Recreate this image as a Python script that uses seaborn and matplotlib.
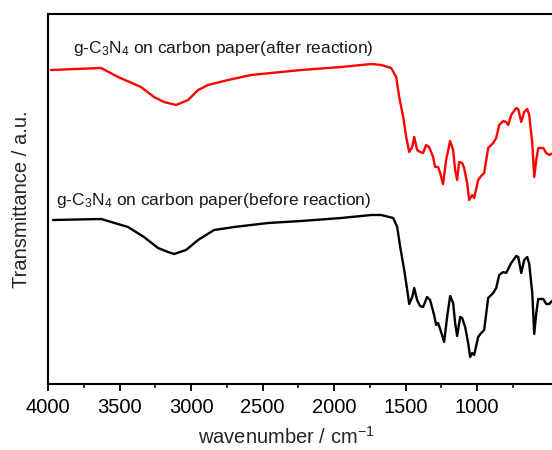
import numpy as np
import pandas as pd
import matplotlib
matplotlib.use("Agg")
import matplotlib.pyplot as plt
import seaborn as sns
from matplotlib.ticker import FixedLocator

# FTIR spectra of g-C3N4 on carbon paper (wavenumber in cm^-1, transmittance in a.u.)
wn_after = [3979, 3629, 3510, 3350, 3259, 3189, 3105, 3021, 2951, 2881, 2741, 2580,
            2371, 2231, 1951, 1741, 1671, 1601, 1566, 1545, 1517, 1496, 1475, 1454,
            1440, 1420, 1399, 1378, 1357, 1336, 1308, 1294, 1273, 1259, 1238, 1217,
            1189, 1168, 1154, 1140, 1126, 1105, 1091, 1070, 1056, 1035, 1021, 993,
            972, 951, 923, 888, 867, 846, 818, 797, 783, 762, 727, 713, 692, 671,
            650, 636, 615, 601, 587, 573, 538, 517, 497, 469, 440]
tr_after = [31.4, 31.6, 30.7, 29.7, 28.7, 28.2, 27.9, 28.4, 29.4, 29.9, 30.4, 30.9,
            31.2, 31.4, 31.7, 32.0, 31.9, 31.6, 30.7, 28.7, 26.7, 24.7, 23.2, 23.7,
            24.7, 23.4, 23.2, 23.1, 23.9, 23.7, 22.7, 21.7, 21.7, 21.1, 20.0, 22.4,
            24.3, 23.4, 21.4, 20.4, 22.2, 22.1, 21.6, 20.1, 18.4, 18.9, 18.6, 20.4,
            20.8, 21.1, 23.6, 24.1, 24.6, 25.9, 26.3, 26.2, 25.9, 26.9, 27.6, 27.5,
            26.2, 27.2, 27.5, 26.9, 24.1, 20.7, 22.4, 23.6, 23.6, 23.1, 22.9, 23.1,
            23.2]

wn_before = [3965, 3629, 3441, 3329, 3231, 3161, 3119, 3035, 2951, 2839, 2699, 2462,
             2231, 1951, 1741, 1671, 1587, 1559, 1538, 1510, 1489, 1475, 1454, 1440,
             1420, 1399, 1378, 1350, 1329, 1301, 1287, 1273, 1252, 1231, 1210, 1189,
             1168, 1154, 1140, 1119, 1105, 1084, 1063, 1049, 1035, 1021, 993, 972,
             951, 923, 888, 867, 846, 818, 797, 762, 727, 713, 692, 671, 650, 636,
             615, 601, 587, 573, 538, 517, 497, 469, 440]
tr_before = [16.4, 16.5, 15.7, 14.7, 13.6, 13.2, 13.0, 13.4, 14.4, 15.4, 15.7, 16.1,
             16.3, 16.6, 16.9, 16.9, 16.6, 15.7, 13.7, 11.4, 9.4, 8.0, 8.7, 9.6,
             8.4, 7.8, 7.7, 8.7, 8.4, 6.9, 5.9, 6.1, 5.2, 4.2, 6.7, 8.8,
             8.1, 6.1, 4.8, 6.7, 6.6, 5.7, 4.1, 2.7, 3.1, 2.9, 4.7, 5.1,
             5.4, 8.6, 9.1, 9.6, 10.9, 11.2, 11.1, 12.1, 12.8, 12.7, 11.1, 12.4, 12.7, 12.0,
             9.1, 5.0, 7.1, 8.5, 8.5, 8.0, 8.0, 8.4, 8.5]

label_after = "g-C$_3$N$_4$ on carbon paper(after reaction)"
label_before = "g-C$_3$N$_4$ on carbon paper(before reaction)"

major_ticks = [4000, 3500, 3000, 2500, 2000, 1500, 1000]
minor_ticks = [3750, 3250, 2750, 2250, 1750, 1250, 750]

sns.set_theme(style="ticks")
plt.rcParams["font.family"] = ["Liberation Sans", "DejaVu Sans"]
plt.rcParams["mathtext.fontset"] = "custom"
plt.rcParams["mathtext.rm"] = "Liberation Sans"
plt.rcParams["mathtext.it"] = "Liberation Sans:italic"
plt.rcParams["mathtext.bf"] = "Liberation Sans:bold"

df_after = pd.DataFrame({"wavenumber": wn_after, "T": tr_after})
df_before = pd.DataFrame({"wavenumber": wn_before, "T": tr_before})

fig = plt.figure(figsize=(5.52, 4.5), dpi=100)
ax = fig.add_axes([48 / 552, 66 / 450, 515 / 552, 370 / 450])

sns.lineplot(data=df_after, x="wavenumber", y="T", ax=ax, color="#ff0000",
             linewidth=1.7, sort=False)
sns.lineplot(data=df_before, x="wavenumber", y="T", ax=ax, color="black",
             linewidth=1.7, sort=False)

ax.set_xlim(4000, 400)
ax.set_ylim(0, 37)

ax.text(3825, 33.6, label_after, fontsize=12.5, va="center", ha="left", color="#1a1a1a")
ax.text(3944, 18.4, label_before, fontsize=12.5, va="center", ha="left", color="#1a1a1a")

ax.xaxis.set_major_locator(FixedLocator(major_ticks))
ax.xaxis.set_minor_locator(FixedLocator(minor_ticks))
ax.tick_params(axis="x", which="major", direction="out", length=5, width=1.3,
               labelsize=14.5, pad=5, colors="black")
ax.tick_params(axis="x", which="minor", direction="out", length=3, width=1.3)
ax.set_yticks([])
ax.tick_params(axis="y", left=False, labelleft=False)

for side in ["left", "bottom", "top", "right"]:
    ax.spines[side].set_linewidth(1.5)
    ax.spines[side].set_color("black")

ax.set_xlabel("wavenumber / cm$^{-1}$", fontsize=14.5)
ax.xaxis.set_label_coords((286 - 48) / 515, -0.113)
ax.set_ylabel("Transmittance / a.u.", fontsize=14.5, labelpad=12)

fig.savefig("out.png", dpi=100)
